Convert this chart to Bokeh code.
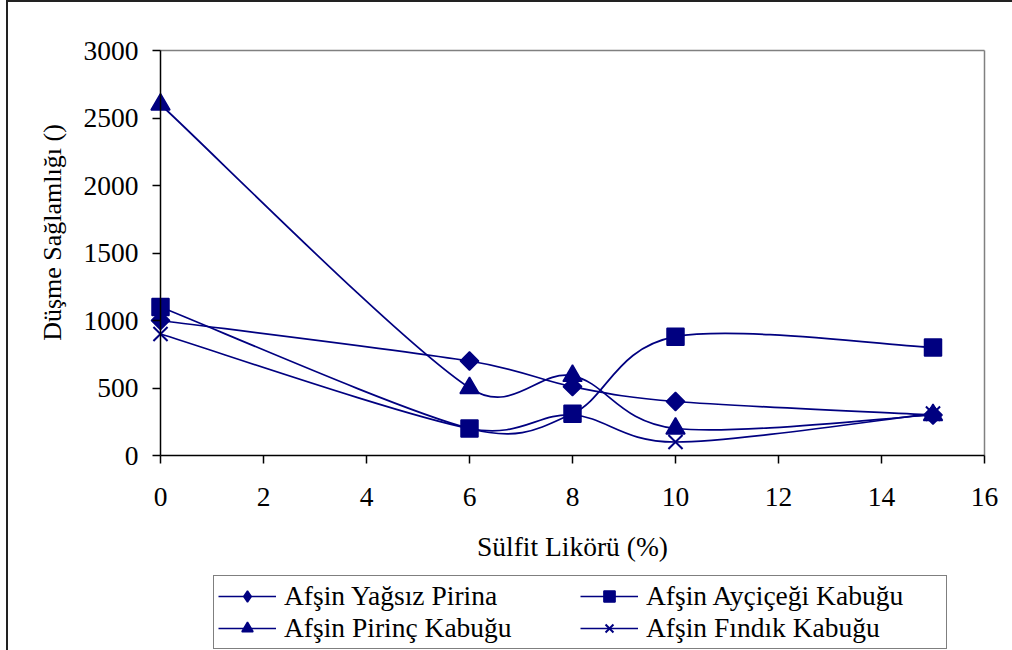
import numpy as np
from bokeh.plotting import figure
from bokeh.models import FixedTicker, Legend, LegendItem, ColumnDataSource, Range1d, Label
from bokeh.embed import file_html
from bokeh.resources import INLINE

# ---- data ----
x_values = [0, 6, 8, 10, 15]
yagsiz_pirina = [1000, 700, 510, 400, 300]
aycicegi_kabugu = [1100, 200, 310, 880, 800]
pirinc_kabugu = [2600, 500, 590, 200, 300]
findik_kabugu = [900, 200, 300, 100, 310]
series_names = ["Afşin Yağsız Pirina", "Afşin Ayçiçeği Kabuğu",
                "Afşin Pirinç Kabuğu", "Afşin Fındık Kabuğu"]
x_ticks = [0, 2, 4, 6, 8, 10, 12, 14, 16]
y_ticks = [0, 500, 1000, 1500, 2000, 2500, 3000]
x_title = "Sülfit Likörü (%)"
y_title = "Düşme Sağlamlığı ()"

NAVY = "#000080"
FONT = "Liberation Serif"
FS = "27.5px"

X_MIN, X_MAX, Y_MIN, Y_MAX = 0, 16, 0, 3000

# ---- layout (pixels, canvas coordinates) ----
CANVAS_W, CANVAS_H = 1004, 648
AREA_LEFT, AREA_RIGHT = 152, 976      # where x = 0 and x = 16 fall
AREA_TOP, AREA_BOTTOM = 48, 453       # where y = 3000 and y = 0 fall
TICK_PX = 8
sx = (AREA_RIGHT - AREA_LEFT) / (X_MAX - X_MIN)
sy = (AREA_BOTTOM - AREA_TOP) / (Y_MAX - Y_MIN)

x_range = Range1d(X_MIN - AREA_LEFT / sx, X_MAX + (CANVAS_W - AREA_RIGHT) / sx)
y_range = Range1d(Y_MIN - (CANVAS_H - AREA_BOTTOM) / sy, Y_MAX + AREA_TOP / sy)

p = figure(frame_width=CANVAS_W, frame_height=CANVAS_H, title=None,
           x_range=x_range, y_range=y_range,
           output_backend="svg", toolbar_location=None,
           min_border=0, min_border_left=0, min_border_right=0,
           min_border_top=0, min_border_bottom=0)
p.styles = {"margin-left": "6px", "border-left": "2px solid #222222",
            "border-top": "2px solid #222222"}
p.background_fill_color = "white"
p.border_fill_color = "white"
p.outline_line_color = None
p.xgrid.visible = False
p.ygrid.visible = False

for ax in (p.xaxis[0], p.yaxis[0]):
    ax.fixed_location = 0
    ax.axis_line_color = "black"
    ax.axis_line_width = 1.5
    ax.major_tick_line_color = "black"
    ax.major_tick_line_width = 1.5
    ax.major_tick_in = 0
    ax.major_tick_out = TICK_PX
    ax.minor_tick_line_color = None
    ax.major_label_text_font = FONT
    ax.major_label_text_font_size = FS
    ax.major_label_text_color = "black"
    ax.axis_label_text_font = FONT
    ax.axis_label_text_font_size = FS
    ax.axis_label_text_font_style = "normal"
    ax.axis_label_text_color = "black"

p.xaxis[0].ticker = FixedTicker(ticks=x_ticks)
p.xaxis[0].bounds = (X_MIN, X_MAX)
p.xaxis[0].major_label_standoff = 24
p.xaxis[0].axis_label = x_title
p.xaxis[0].axis_label_standoff = 22

p.yaxis[0].ticker = FixedTicker(ticks=y_ticks)
p.yaxis[0].bounds = (Y_MIN, Y_MAX)
p.yaxis[0].major_label_standoff = 14

# y-axis title (placed a little above the centre, as in the original)
p.add_layout(Label(x=X_MIN - (AREA_LEFT - 44) / sx, y=Y_MIN + (AREA_BOTTOM - 230) / sy,
                   text=y_title, angle=np.pi / 2, text_align="center",
                   text_baseline="middle", text_font=FONT, text_font_size="26px",
                   text_color="black"))

# top and right plot-area border (grey)
border = ColumnDataSource(dict(x0=[X_MIN, X_MAX], y0=[Y_MAX, Y_MIN],
                               x1=[X_MAX, X_MAX], y1=[Y_MAX, Y_MAX]))
p.segment(x0="x0", y0="y0", x1="x1", y1="y1", source=border,
          line_color="#808080", line_width=1.5)


# smoothed (Excel-like) bezier segments, computed in pixel space
def smooth_segments(xs, ys):
    P = np.column_stack([np.asarray(xs, float) * sx, np.asarray(ys, float) * sy])
    n = len(P)
    out = {k: [] for k in ("x0", "y0", "x1", "y1", "cx0", "cy0", "cx1", "cy1")}
    for i in range(n - 1):
        a, b = P[i], P[i + 1]
        prev = P[i - 1] if i > 0 else P[i]
        nxt = P[i + 2] if i + 2 < n else P[i + 1]
        seg = np.linalg.norm(b - a)
        t1 = (b - prev) / 6.0
        t2 = (nxt - a) / 6.0
        lim = 0.5 * seg
        if np.linalg.norm(t1) > lim:
            t1 = t1 * lim / np.linalg.norm(t1)
        if np.linalg.norm(t2) > lim:
            t2 = t2 * lim / np.linalg.norm(t2)
        c1 = a + t1
        c2 = b - t2
        out["x0"].append(a[0] / sx); out["y0"].append(a[1] / sy)
        out["x1"].append(b[0] / sx); out["y1"].append(b[1] / sy)
        out["cx0"].append(c1[0] / sx); out["cy0"].append(c1[1] / sy)
        out["cx1"].append(c2[0] / sx); out["cy1"].append(c2[1] / sy)
    return out


# name, values, plot marker, size, angle, legend marker, line width
series = [
    (series_names[0], yagsiz_pirina, "square", 13, np.pi / 4, "diamond", 1.5),
    (series_names[1], aycicegi_kabugu, "square", 17, 0, "square", 1.5),
    (series_names[2], pirinc_kabugu, "triangle", 19, 0, "triangle", 1.5),
    (series_names[3], findik_kabugu, "x", 20, 0, "x", 2),
]

items = {}
for name, ys, marker, size, ang, lmarker, lw in series:
    seg = ColumnDataSource(smooth_segments(x_values, ys))
    rl = p.bezier(x0="x0", y0="y0", x1="x1", y1="y1", cx0="cx0", cy0="cy0",
                  cx1="cx1", cy1="cy1", source=seg, line_color=NAVY, line_width=1.7)
    pts = ColumnDataSource(dict(x=x_values, y=ys))
    legend_glyph = None
    if lmarker != marker:
        # diamond glyph used by the legend; it sits under the (wider) marker below
        legend_glyph = p.scatter(x="x", y="y", source=pts, marker=lmarker, size=size,
                                 fill_color=NAVY, line_color=NAVY, line_width=lw)
    rm = p.scatter(x="x", y="y", source=pts, marker=marker, size=size, angle=ang,
                   fill_color=NAVY, line_color=NAVY, line_width=lw)
    items[name] = LegendItem(label=name, renderers=[rl, legend_glyph or rm])

# column-major fill: first column = 1st and 3rd series, second = 2nd and 4th
legend_order = [series_names[0], series_names[2], series_names[1], series_names[3]]
legend = Legend(items=[items[n] for n in legend_order], location=(205, 1),
                orientation="vertical", ncols=2,
                label_text_font=FONT, label_text_font_size=FS,
                label_text_color="black", glyph_width=58, glyph_height=28,
                label_height=28, label_width=296, label_standoff=8,
                spacing=0, padding=4, margin=0,
                border_line_color="black", border_line_width=1,
                background_fill_color="white", background_fill_alpha=1)
p.add_layout(legend, "center")

open("out.html", "w").write(file_html(p, INLINE))
